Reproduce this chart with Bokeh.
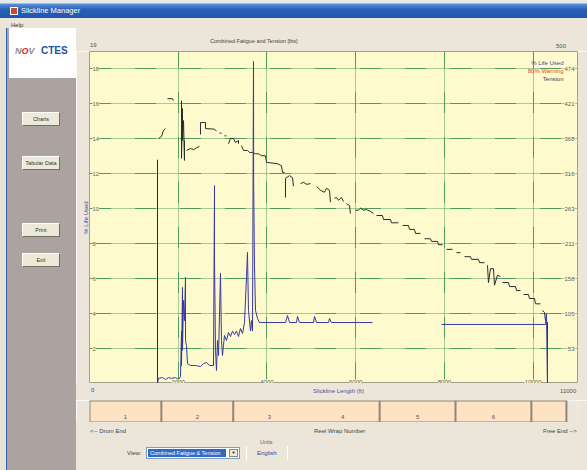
import math
from bokeh.plotting import figure
from bokeh.models import Range1d, LinearAxis, FixedTicker, Grid, ColumnDataSource, Div
from bokeh.layouts import column, row
from bokeh.core.properties import value
from bokeh.embed import file_html
from bokeh.resources import INLINE

NaN = float("nan")

# ---------------- data ----------------
x_max = 11000
y_max = 19
lbs_max = 500
x_ticks = [2000, 4000, 6000, 8000, 10000]
x_tick_labels = ["2000", "4000", "6000", "8000", "10000"]
y_ticks = [2, 4, 6, 8, 10, 12, 14, 16, 18]
y_tick_labels = ["2", "4", "6", "8", "10", "12", "14", "16", "18"]
lbs_tick_labels = ["53", "105", "158", "211", "263", "316", "368", "421", "474"]

legend_labels = ["% Life Used", "80% Warning", "Tension"]
legend_colors = ["#4848a8", "#e8442e", "#444444"]

# % life used (blue)
life_ft = [0, 1533, 1555, 1645, 1713, 1781, 1848, 1938, 2006, 2051, 2074, 2074, 2096, 2096,
           2119, 2141, 2164, 2164, 2186, 2209, 2277, 2389, 2502, 2570, 2637, 2705, 2795,
           2818, 2818, 2840, 2863, 2885, 2908, 2953, 2975, 2998, 3020, 3043, 3088, 3133,
           3178, 3223, 3268, 3313, 3358, 3404, 3449, 3494, 3539, 3561, 3584, 3629, 3651,
           3674, 3697, 3700, 3719, 3742, 3787, 3832, 3899, 4418, 4463, 4508, 4666, 4688,
           4733, 5049, 5072, 5117, 5387, 5410, 5455, 6379, NaN, 7934, 10278, 10301, 10323]
life_pct = [0, 0, 0.3, 0.34, 0.23, 0.34, 0.29, 0.34, 0.23, 0.4, 3.0, 1.0, 5.5, 1.9,
            4.75, 3.6, 6.07, 2.46, 2.18, 1.14, 1.03, 1.03, 0.97, 1.14, 1.2, 1.03, 1.03,
            11.33, 7.04, 1.9, 0.74, 2.46, 1.6, 6.3, 2.46, 1.6, 2.18, 2.75, 2.46, 2.92,
            2.69, 3.0, 2.8, 3.0, 2.69, 3.15, 2.86, 3.49, 6.12, 7.5, 4.18, 3.0, 3.6,
            3.0, 18.43, 11.6, 6.75, 4.18, 3.72, 3.49, 3.49, 3.49, 3.89, 3.49, 3.49, 3.84,
            3.49, 3.49, 3.84, 3.49, 3.49, 3.72, 3.49, 3.49, NaN, 3.38, 3.38, 4.0, 0]

# tension (lbs)
tension_ft = [0, 1533, 1533, NaN,
              1555, 1623, 1668, 1713, NaN,
              1758, 1871, 1893, NaN,
              2074, 2074, 2096, 2096, 2119, 2141, 2141, NaN,
              2186, 2277, 2344, 2412, 2479, NaN,
              2502, 2502, 2615, 2615, 2818, 2863, NaN,
              2930, 2975, NaN, 3043, 3088, NaN,
              3133, 3178, 3246, 3291, 3358, 3358, NaN,
              3426, 3471, 3561, 3606, 3674, 3742, 3809, 3877, 3967, 3990, 4238, 4328, 4350, 4395, NaN,
              4418, 4418, 4508, 4576, 4598, NaN,
              4756, 4824, 4891, 4981, NaN,
              5117, 5207, 5297, 5342, 5410, 5432, NaN,
              5522, 5567, 5612, 5680, 5725, NaN,
              5793, 5860, 5883, NaN,
              5996, 6063, 6108, 6176, 6244, 6334, 6401, NaN,
              6469, 6604, 6627, 6785, 6807, 6965, NaN,
              7055, 7190, 7213, 7326, 7348, 7461, NaN,
              7551, 7686, 7709, 7844, 7866, 7957, NaN,
              8047, 8182, NaN, 8272, 8362, NaN,
              8453, 8588, 8610, 8768, 8791, 8903, NaN,
              8971, 8993, 9039, 9106, 9129, 9196, 9264, NaN,
              9309, 9444, 9467, 9602, 9625, 9715, NaN,
              9782, 9895, 9918, 10030, 10053, 10166, NaN,
              10211, 10256, 10278, 10323, 10323]
tension_lbs = [0, 0, 337, NaN,
               369, 372, 381, 384, NaN,
               429, 429, 426, NaN,
               426, 339, 414, 366, 396, 336, 366, NaN,
               351, 354, 352, 355, 357, NaN,
               375, 393, 393, 384, 383, 380, NaN,
               377, 377, NaN, 373, 373, NaN,
               361, 369, 369, 363, 366, 361, NaN,
               358, 351, 351, 348, 348, 346, 346, 343, 343, 333, 331, 328, 318, 318, NaN,
               280, 309, 313, 310, 297, NaN,
               301, 303, 300, 301, NaN,
               297, 291, 288, 294, 291, 273, NaN,
               279, 280, 276, 280, 274, NaN,
               271, 268, 256, NaN,
               261, 261, 264, 261, 262, 259, 256, NaN,
               253, 253, 247, 247, 242, 242, NaN,
               238, 238, 232, 232, 226, 226, NaN,
               218, 218, 214, 214, 209, 209, NaN,
               202, 202, NaN, 197, 197, NaN,
               191, 191, 187, 187, 182, 182, NaN,
               178, 152, 173, 173, 148, 163, 161, NaN,
               152, 152, 146, 146, 140, 140, NaN,
               134, 134, 128, 128, 120, 120, NaN,
               110, 107, 95, 92, 0]

# reel wraps
wrap_edges = [0, 1620, 3240, 4870, 6540, 8250, 9960, 10750]
wrap_numbers = ["1", "2", "3", "4", "5", "6", ""]
wrap_hidden_edges = [4870]

# ---------------- styling ----------------
FONT = "Liberation Sans"
BG = "#ebe6d9"
PANEL = "#aca3a0"
YELLOW = "#fffacd"
GRID = "#4f9c5c"
FS = "6px"
MAIN_W = 511

# ---------------- chart ----------------
p = figure(width=MAIN_W, height=332, x_range=Range1d(0, x_max), y_range=Range1d(0, y_max),
           x_axis_type=None, y_axis_type=None, output_backend="svg", toolbar_location=None,
           min_border_left=13, min_border_right=10, min_border_top=0, min_border_bottom=0,
           background_fill_color=YELLOW, border_fill_color=BG,
           outline_line_color="#a39f8e", outline_line_width=1)
p.extra_y_ranges = {"lbs": Range1d(0, lbs_max)}

ax = LinearAxis(ticker=FixedTicker(ticks=[]), axis_label="% Life Used",
                axis_line_color=None, major_tick_line_color=None, minor_tick_line_color=None,
                major_label_text_font_size="0px", axis_label_text_font_size=FS,
                axis_label_text_color="#3c3ca8", axis_label_text_font_style="normal",
                axis_label_text_font=FONT, axis_label_standoff=1)
p.add_layout(ax, "left")

dash = "22 1 1 1 1 1 1 1 1 1 1 1 1 1 1 1 1 1 1 1 1 1 1 1"
p.add_layout(Grid(dimension=0, ticker=FixedTicker(ticks=x_ticks), grid_line_color=GRID,
                  grid_line_dash=dash, grid_line_width=1))
p.add_layout(Grid(dimension=1, ticker=FixedTicker(ticks=y_ticks), grid_line_color=GRID,
                  grid_line_dash=dash, grid_line_width=1))

p.line(tension_ft, tension_lbs, y_range_name="lbs", line_color="#2c2c2c", line_width=1)
p.line(life_ft, life_pct, line_color="#3838a4", line_width=1)

x_start = p.x_range.start
x_end = p.x_range.end
tick_style = dict(text_font=value(FONT), text_font_size=FS, background_fill_color=YELLOW)
left_src = ColumnDataSource(dict(x=[x_start] * len(y_ticks), y=y_ticks, t=y_tick_labels))
p.text(x="x", y="y", text="t", source=left_src, x_offset=3, text_align="left",
       text_baseline="middle", text_color="#6f6450", **tick_style)
right_src = ColumnDataSource(dict(x=[x_end] * len(y_ticks), y=y_ticks, t=lbs_tick_labels))
p.text(x="x", y="y", text="t", source=right_src, x_offset=-3, text_align="right",
       text_baseline="middle", text_color="#5a5a5a", **tick_style)
bot_src = ColumnDataSource(dict(x=x_ticks, y=[p.y_range.start] * len(x_ticks), t=x_tick_labels))
p.text(x="x", y="y", text="t", source=bot_src, text_align="center",
       text_baseline="bottom", text_color="#555555", **tick_style)

leg_src = ColumnDataSource(dict(x=[x_end] * 3, y=[p.y_range.end] * 3, t=legend_labels,
                                c=legend_colors, dy=[11, 19, 27]))
p.text(x="x", y="y", text="t", source=leg_src, x_offset=-14, y_offset="dy",
       text_align="right", text_baseline="middle", text_color="c",
       text_font=value(FONT), text_font_size=FS)

# ---------------- wrap strip ----------------
s = figure(width=MAIN_W, height=22, x_range=p.x_range, y_range=Range1d(0, 1),
           x_axis_type=None, y_axis_type=None, output_backend="svg", toolbar_location=None,
           min_border_left=13, min_border_right=10, min_border_top=0, min_border_bottom=0,
           background_fill_color=BG, border_fill_color=BG, outline_line_color=None)
s.quad(left=[wrap_edges[0]], right=[wrap_edges[-1]], bottom=[0], top=[1],
       fill_color="#fde2c4", line_color="#8e8778", line_width=2)
div_x = [e for e in wrap_edges[1:-1] if e not in wrap_hidden_edges]
s.segment(x0=div_x, y0=[0] * len(div_x), x1=div_x, y1=[1] * len(div_x),
          line_color="#8e8778", line_width=2)
centers = [(a + b) / 2 for a, b in zip(wrap_edges[:-1], wrap_edges[1:])]
s.text(x=centers, y=[0.15] * len(centers), text=wrap_numbers, text_align="center",
       text_baseline="bottom", text_color="#555555", text_font=value(FONT),
       text_font_size=FS)


# ---------------- surrounding UI ----------------
def span(text, left, top, size=6, color="#333", extra=""):
    return (f'<span style="position:absolute;left:{left}px;top:{top}px;font-size:{size}px;'
            f'color:{color};white-space:nowrap;line-height:1;{extra}">{text}</span>')


def box(w, h, inner, bg, extra=""):
    html = (f'<div style="position:relative;width:{w}px;height:{h}px;background:{bg};'
            f'font-family:\'{FONT}\',sans-serif;overflow:hidden;box-sizing:border-box;{extra}">'
            f'{inner}</div>')
    return Div(text=html, width=w, height=h, margin=0, styles={"background": bg})


title_bar = box(587, 18,
                '<span style="position:absolute;left:10px;top:7px;width:8px;height:8px;'
                'background:#c84a2a;border:1px solid #fff;box-sizing:border-box;"></span>'
                + span("Slickline Manager", 21, 7, 7.5, "#ffffff"),
                "#2a62b6",
                "background:linear-gradient(to bottom,#e8e8e8 0px,#e8e8e8 3px,#5a92dc 4px,#2a62b8 9px,#1f55ad 18px);")
menu_bar = box(587, 10, span("Help", 11, 2, 6, "#333"), BG)


def button(label, top):
    return (f'<div style="position:absolute;left:22px;top:{top}px;width:38px;height:14px;'
            f'background:#ece9d8;border:1px solid;border-color:#ffffff #716f64 #716f64 #ffffff;'
            f'box-sizing:border-box;font-size:5.5px;line-height:12px;text-align:center;'
            f'color:#333;white-space:nowrap;">{label}</div>')


logo = ('<div style="position:absolute;left:9px;top:0px;width:67px;height:50px;background:#fff;">'
        '<span style="position:absolute;left:6px;top:19px;font-size:9px;font-weight:bold;'
        'font-style:italic;color:#8c8c8c;line-height:1;">N<span style="color:#d8262c;">O</span>V</span>'
        '<span style="position:absolute;left:32px;top:18px;font-size:10px;font-weight:bold;'
        'color:#1d4fa3;line-height:1;">CTES</span></div>')
edge = ('<div style="position:absolute;left:0px;top:0px;width:7px;height:442px;background:#e6e2d6;'
        'border-right:1px solid #2f5fb0;"></div>')
left_panel = box(76, 442,
                 edge + logo + button("Charts", 84) + button("Tabular Data", 128)
                 + button("Print", 195) + button("Exit", 225),
                 PANEL)

top_div = box(MAIN_W, 23,
              span("19", 14, 14, 6, "#555")
              + span("Combined Fatigue and Tension [lbs]", 134, 11, 5.5, "#444")
              + span("500", 480, 15, 6, "#555"), BG)

below_div = box(MAIN_W, 17,
                span("0", 15, 4, 6, "#3c3ca8")
                + span("Slickline Length (ft)", 237, 5, 6, "#5050a8")
                + span("11000", 484, 5, 6, "#555"), BG)

dropdown = ('<div style="position:absolute;left:70px;top:25px;width:94px;height:12px;'
            'background:#fff;border:1px solid #7f9db9;box-sizing:border-box;">'
            '<div style="position:absolute;left:1px;top:1px;width:78px;height:8px;'
            'background:#316ac5;color:#fff;font-size:5.5px;line-height:8px;padding-left:2px;'
            'white-space:nowrap;overflow:hidden;">Combined Fatigue &amp; Tension</div>'
            '<div style="position:absolute;right:1px;top:1px;width:9px;height:8px;'
            'background:#ece9d8;border:1px solid #888;box-sizing:border-box;font-size:4px;'
            'line-height:6px;text-align:center;color:#000;">&#9660;</div></div>')
sep = ('<div style="position:absolute;left:{0}px;top:24px;width:1px;height:14px;'
       'background:#c2baa8;border-right:1px solid #fff;"></div>')
bottom_div = box(MAIN_W, 48,
                 span("&lt;-- Drum End", 14, 6, 6, "#444")
                 + span("Reel Wrap Number", 238, 6, 6, "#444")
                 + span("Free End --&gt;", 467, 6, 6, "#444")
                 + span("Units", 184, 18, 5.5, "#666")
                 + span("English", 181, 28, 6, "#3c3ca8")
                 + span("View:", 51, 28, 6, "#444")
                 + dropdown + sep.format(170) + sep.format(211), BG)

main_col = column(top_div, p, below_div, s, bottom_div, spacing=0, margin=0)
body = row(left_panel, main_col, spacing=0, margin=0)
layout = column(title_bar, menu_bar, body, spacing=0, margin=0)

open("out.html", "w").write(file_html(layout, INLINE))
